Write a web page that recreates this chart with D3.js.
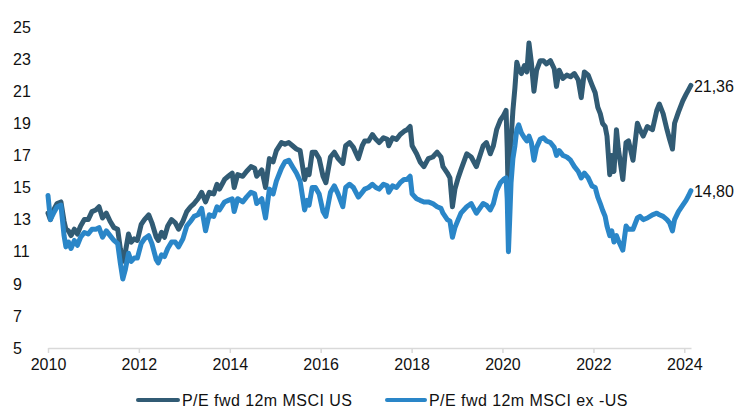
<!DOCTYPE html>
<html>
<head>
<meta charset="utf-8">
<script src="https://cdn.jsdelivr.net/npm/d3@7"></script>
<style>
  body { margin: 0; background: #fff; }
  svg { display: block; font-family: "Liberation Sans", Arial, sans-serif; }
</style>
</head>
<body>
<div id="chart"></div>
<script>
// dates, one value per series for each date
const dates = [
  "2010-01-01","2010-01-20","2010-02-15","2010-03-15","2010-04-15","2010-05-10","2010-05-25","2010-06-15","2010-07-05","2010-08-01","2010-08-25","2010-09-20","2010-10-20","2010-11-20","2010-12-20",
  "2011-01-20","2011-02-15","2011-03-15","2011-04-15","2011-05-15","2011-06-15","2011-07-15","2011-08-05","2011-08-25","2011-09-15","2011-10-10","2011-11-01","2011-11-25","2011-12-20",
  "2012-01-20","2012-02-15","2012-03-20","2012-04-15","2012-05-20","2012-06-05","2012-07-01","2012-07-25","2012-08-20","2012-09-20","2012-10-20","2012-11-15","2012-12-20",
  "2013-01-20","2013-02-20","2013-03-20","2013-04-20","2013-05-20","2013-06-20","2013-07-20","2013-08-25","2013-09-20","2013-10-10","2013-11-20","2013-12-20",
  "2014-01-20","2014-02-05","2014-03-05","2014-04-15","2014-05-15","2014-06-20","2014-07-20","2014-08-05","2014-09-15","2014-10-15","2014-11-15","2014-12-15",
  "2015-01-10","2015-02-20","2015-03-20","2015-04-20","2015-05-20","2015-06-20","2015-07-20","2015-08-25","2015-09-15","2015-09-30","2015-10-25","2015-11-20","2015-12-20",
  "2016-01-20","2016-02-12","2016-03-20","2016-04-20","2016-05-20","2016-06-27","2016-07-20","2016-08-20","2016-09-20","2016-10-30","2016-11-30","2016-12-20",
  "2017-01-20","2017-02-20","2017-03-20","2017-04-15","2017-05-20","2017-06-20","2017-07-01","2017-08-01","2017-09-01","2017-10-01","2017-11-01","2017-11-25","2017-12-20",
  "2018-01-05","2018-02-10","2018-03-10","2018-04-10","2018-05-15","2018-06-20","2018-07-25","2018-08-25","2018-09-10","2018-10-15","2018-11-05","2018-11-25","2018-12-15",
  "2019-01-10","2019-02-01","2019-03-20","2019-04-25","2019-06-05","2019-07-30","2019-08-25","2019-09-25","2019-10-20","2019-11-15","2019-12-15",
  "2020-01-10","2020-01-30","2020-02-08","2020-02-18","2020-02-28","2020-03-10","2020-03-25","2020-04-10","2020-04-25","2020-05-10","2020-06-01","2020-06-25","2020-07-15","2020-08-01","2020-08-20","2020-09-10","2020-10-01","2020-10-30","2020-11-25","2020-12-20",
  "2021-01-20","2021-02-20","2021-03-10","2021-04-01","2021-05-01","2021-06-01","2021-07-01","2021-08-01","2021-09-01","2021-09-25","2021-10-20","2021-11-20","2021-12-20",
  "2022-01-15","2022-02-05","2022-02-25","2022-03-15","2022-04-05","2022-04-20","2022-05-12","2022-05-28","2022-06-15","2022-07-05","2022-07-20","2022-08-25","2022-09-20","2022-10-10","2022-11-15","2022-12-20",
  "2023-01-10","2023-02-05","2023-03-10","2023-04-20","2023-05-25","2023-06-15","2023-07-15","2023-08-15","2023-09-05","2023-09-28","2023-10-15","2023-11-15","2023-12-20",
  "2024-01-15","2024-02-05","2024-02-23"
];

const usPE = [
  13.4,13.0,13.6,14.0,14.1,12.9,12.4,12.3,12.0,12.4,12.1,12.6,13.0,13.0,13.5,
  13.6,13.8,13.1,13.4,12.9,12.5,12.4,11.2,10.4,11.0,12.1,11.6,11.8,11.7,
  12.7,13.0,13.3,12.8,11.9,11.7,12.2,11.9,12.6,13.0,12.8,12.4,12.9,
  13.5,13.8,14.0,14.3,14.7,14.1,14.7,14.6,15.2,14.9,15.5,15.7,
  15.9,15.0,15.8,15.7,16.0,16.3,16.2,15.7,16.1,15.0,16.8,16.6,
  17.3,17.8,17.7,17.8,17.6,17.4,17.3,15.5,16.1,15.8,17.2,17.2,16.8,
  15.7,15.3,16.9,17.2,16.8,16.5,17.6,17.8,17.5,16.8,17.6,17.9,
  17.9,18.3,18.0,17.8,18.1,18.0,17.6,18.1,18.0,18.3,18.5,18.6,18.8,
  17.6,17.1,16.6,16.3,16.8,16.9,17.2,16.9,16.3,15.9,15.6,13.8,14.9,
  15.6,16.1,17.1,16.9,16.3,17.6,17.8,17.1,17.6,18.6,19.2,
  19.5,19.8,17.5,13.8,16.2,18.0,19.8,21.2,22.8,22.4,22.1,22.6,22.2,24.0,22.8,21.0,22.3,22.9,22.9,22.7,
  22.9,22.4,21.3,22.3,21.8,22.0,21.9,22.1,21.7,20.6,22.2,22.0,21.4,
  20.9,20.0,19.6,19.0,18.8,18.2,15.8,17.0,16.0,18.6,17.4,15.5,17.8,17.9,16.7,19.0,
  18.6,18.2,18.8,18.6,19.8,20.2,19.6,18.6,18.0,17.4,19.0,19.7,20.4,
  20.8,21.1,21.36
];

const exUsPE = [
  14.5,13.0,13.4,13.8,13.9,12.0,11.3,11.6,11.2,11.7,11.4,11.9,12.2,12.1,12.4,
  12.4,12.5,11.9,12.3,12.0,11.7,11.5,10.3,9.3,9.9,10.9,10.4,10.6,10.6,
  11.5,11.8,12.0,11.5,10.5,10.3,10.8,10.7,11.2,11.6,11.6,11.3,11.8,
  12.6,12.9,13.2,13.3,13.7,12.3,13.3,13.2,13.8,13.6,14.1,14.2,
  14.3,13.5,14.3,14.1,14.4,14.7,14.6,14.0,14.3,13.1,14.9,14.6,
  15.4,16.2,16.6,16.7,16.3,15.9,15.4,13.6,14.2,13.9,15.0,15.0,14.6,
  13.5,13.2,14.7,15.1,14.6,13.8,15.0,15.2,15.0,14.4,14.7,14.9,
  15.0,15.2,15.0,14.9,15.2,15.1,14.7,15.1,15.0,15.3,15.5,15.5,15.7,
  14.6,14.3,14.2,14.1,14.1,14.0,13.8,13.7,13.4,13.0,12.9,11.9,12.5,
  13.0,13.4,13.8,14.0,13.4,14.0,13.9,13.6,14.0,14.8,15.3,
  15.5,15.6,14.3,11.0,13.0,15.3,16.8,17.6,18.6,18.9,18.4,18.1,17.9,18.2,17.8,16.7,17.5,18.0,18.1,17.9,
  17.8,17.5,17.0,17.3,17.0,16.9,16.7,16.3,16.0,15.6,15.9,15.6,15.1,
  15.0,14.4,14.0,13.6,13.2,12.6,12.0,12.3,11.6,12.0,11.7,11.1,12.6,12.4,12.4,13.1,
  13.2,13.0,13.1,13.3,13.4,13.3,13.2,13.0,12.8,12.3,13.0,13.5,13.9,
  14.2,14.5,14.80
];

const yTicks = [5, 7, 9, 11, 13, 15, 17, 19, 21, 23, 25];
const xTickYears = [2010, 2012, 2014, 2016, 2018, 2020, 2022, 2024];
const seriesNames = ["P/E fwd  12m MSCI US", "P/E fwd  12m MSCI ex -US"];
const seriesColors = ["#315b74", "#2a86c8"];

const W = 741, H = 408;
const PLOT = { LEFT: 48, RIGHT: 691, TOP: 27, BOTTOM: 348 };
const TEXT_COLOR = "#111";

const parse = d3.timeParse("%Y-%m-%d");
const rows = dates.map(function (d, i) {
  return { date: parse(d), us: usPE[i], ex: exUsPE[i] };
});

const x = d3.scaleTime()
  .domain([new Date(2010, 0, 1), new Date(2024, 1, 24)])
  .range([PLOT.LEFT, PLOT.RIGHT]);
const y = d3.scaleLinear().domain([5, 25]).range([PLOT.BOTTOM, PLOT.TOP]);

const svg = d3.select("#chart").append("svg")
  .attr("width", W)
  .attr("height", H);

// x axis: light rule with short ticks underneath
const xAxis = d3.axisBottom(x)
  .tickValues(xTickYears.map(function (yr) { return new Date(yr, 0, 1); }))
  .tickFormat(d3.timeFormat("%Y"))
  .tickSize(5)
  .tickSizeOuter(0)
  .tickPadding(6);

const gx = svg.append("g")
  .attr("transform", "translate(0," + PLOT.BOTTOM + ")")
  .call(xAxis);
gx.select(".domain").attr("stroke", "#d9d9d9").attr("stroke-width", 1.5);
gx.selectAll(".tick line").attr("stroke", "#d9d9d9").attr("stroke-width", 1.5);
gx.selectAll(".tick text").attr("fill", TEXT_COLOR).style("font-size", "16px");

// y labels only, no rule
svg.append("g").selectAll("text")
  .data(yTicks)
  .enter().append("text")
  .attr("x", 13)
  .attr("y", function (d) { return y(d); })
  .attr("dy", "0.36em")
  .style("font-size", "16px")
  .attr("fill", TEXT_COLOR)
  .text(function (d) { return d; });

function drawSeries (key, color) {
  const line = d3.line()
    .x(function (d) { return x(d.date); })
    .y(function (d) { return y(d[key]); });
  svg.append("path")
    .datum(rows)
    .attr("fill", "none")
    .attr("stroke", color)
    .attr("stroke-width", 5)
    .attr("stroke-linejoin", "round")
    .attr("stroke-linecap", "round")
    .attr("d", line);
}

drawSeries("us", seriesColors[0]);
drawSeries("ex", seriesColors[1]);

// end-of-line value labels
const fmt = d3.formatLocale({ decimal: ",", thousands: ".", grouping: [3], currency: ["", ""] }).format(".2f");
const last = rows[rows.length - 1];
[["us", last.us], ["ex", last.ex]].forEach(function (p) {
  svg.append("text")
    .attr("x", x(last.date) + 3)
    .attr("y", y(p[1]) + 1)
    .attr("dy", "0.36em")
    .style("font-size", "16px")
    .attr("fill", TEXT_COLOR)
    .text(fmt(p[1]));
});

// legend
const legendItems = [
  { x1: 138, x2: 178, tx: 182 },
  { x1: 387, x2: 425, tx: 429 }
];
legendItems.forEach(function (it, i) {
  svg.append("line")
    .attr("x1", it.x1).attr("x2", it.x2)
    .attr("y1", 400).attr("y2", 400)
    .attr("stroke", seriesColors[i])
    .attr("stroke-width", 4)
    .attr("stroke-linecap", "round");
  svg.append("text")
    .attr("x", it.tx)
    .attr("y", 400)
    .attr("dy", "0.36em")
    .style("font-size", "16px")
    .style("letter-spacing", "0.45px")
    .attr("fill", TEXT_COLOR)
    .text(seriesNames[i]);
});
</script>
</body>
</html>
